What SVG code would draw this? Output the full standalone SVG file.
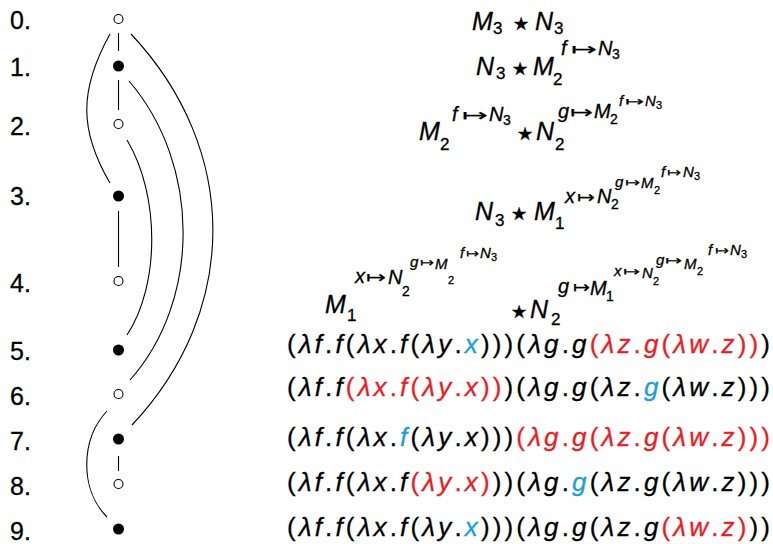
<svg xmlns="http://www.w3.org/2000/svg" width="773" height="544" viewBox="0 0 773 544">
<style>
text{font-family:"Liberation Sans","DejaVu Sans",sans-serif;fill:#000;stroke:#000;stroke-width:0.3}
.lab{font-size:25px}
.L{font-size:25px;font-style:italic}
.d1{font-size:17px}
.l1{font-size:20px;font-style:italic}
.d2{font-size:14px}
.l2{font-size:15px;font-style:italic}
.d3{font-size:11px}
.st{font-family:"DejaVu Sans",sans-serif;font-size:18px}
.a1{font-family:"DejaVu Sans",sans-serif;font-size:17px;stroke-width:0.2}
.a2{font-family:"DejaVu Sans",sans-serif;font-size:13px;stroke-width:0.2}
.lam{font-size:26px}
.i{font-style:italic}
.r{fill:#ec1c24;stroke:#ec1c24}
.c{fill:#1a9fdc;stroke:#1a9fdc}
.op{fill:#fff;stroke:#000;stroke-width:1.1}
.fl{fill:#000}
.cn{fill:none;stroke:#000;stroke-width:1.1}
</style>
<g id="connectors">
<line class="cn" x1="118.5" y1="33" x2="118.5" y2="51"/>
<line class="cn" x1="118.5" y1="80" x2="118.5" y2="110"/>
<line class="cn" x1="118.5" y1="211" x2="118.5" y2="267"/>
<line class="cn" x1="118.5" y1="456" x2="118.5" y2="471"/>
<path class="cn" d="M110,34 C79,90 79,130 110,183"/>
<path class="cn" d="M131,34 C240,150 240,310 132,425"/>
<path class="cn" d="M129,81 C201,165 201,300 130,380"/>
<path class="cn" d="M127,140 C160,195 160,285 127,335"/>
<path class="cn" d="M107,411 C80,440 80,490 107,517"/>
</g>
<g id="n0">
<text class="lab" x="10" y="29">0.</text>
<circle class="op" cx="118.5" cy="19" r="4.5"/>
<text class="L" x="472" y="30">M</text><text class="d1" x="493" y="34">3</text>
<text class="st" x="513" y="30">★</text>
<text class="L" x="535" y="30">N</text><text class="d1" x="554" y="34">3</text>
</g>
<g id="n1">
<text class="lab" x="10" y="76">1.</text>
<circle class="fl" cx="118.5" cy="66" r="5.5"/>
<text class="L" x="476" y="75">N</text><text class="d1" x="496" y="79">3</text>
<text class="st" x="512" y="75">★</text>
<text class="L" x="533" y="75">M</text><text class="d1" x="553" y="85">2</text>
<text class="l1" x="561" y="55">f</text><text class="a1" x="571" y="55" textLength="26" lengthAdjust="spacingAndGlyphs">↦</text><text class="l1" x="598" y="55">N</text><text class="d2" x="612" y="59">3</text>
</g>
<g id="n2">
<text class="lab" x="10" y="135">2.</text>
<circle class="op" cx="118.5" cy="124" r="4.5"/>
<text class="L" x="419" y="140">M</text><text class="d1" x="440" y="150">2</text>
<text class="l1" x="452" y="121">f</text><text class="a1" x="462" y="121" textLength="26" lengthAdjust="spacingAndGlyphs">↦</text><text class="l1" x="489" y="121">N</text><text class="d2" x="503" y="125">3</text>
<text class="st" x="517" y="140">★</text>
<text class="L" x="536" y="140">N</text><text class="d1" x="555" y="150">2</text>
<text class="l1" x="558" y="118">g</text><text class="a1" x="570" y="118" textLength="23" lengthAdjust="spacingAndGlyphs">↦</text><text class="l1" x="594" y="118">M</text><text class="d2" x="610" y="124">2</text>
<text class="l2" x="619" y="106">f</text><text class="a2" x="625" y="106" textLength="19" lengthAdjust="spacingAndGlyphs">↦</text><text class="l2" x="645" y="106">N</text><text class="d3" x="656" y="109">3</text>
</g>
<g id="n3">
<text class="lab" x="10" y="205">3.</text>
<circle class="fl" cx="118.5" cy="196" r="5.5"/>
<text class="L" x="475" y="220">N</text><text class="d1" x="495" y="226">3</text>
<text class="st" x="511" y="220">★</text>
<text class="L" x="534" y="220">M</text><text class="d1" x="555" y="229">1</text>
<text class="l1" x="565" y="203">x</text><text class="a1" x="577" y="203" textLength="18" lengthAdjust="spacingAndGlyphs">↦</text><text class="l1" x="597" y="203">N</text><text class="d2" x="611" y="209">2</text>
<text class="l2" x="615" y="187">g</text><text class="a2" x="625" y="187" textLength="15" lengthAdjust="spacingAndGlyphs">↦</text><text class="l2" x="641" y="188">M</text><text class="d3" x="654" y="194">2</text>
<text class="l2" x="661" y="177">f</text><text class="a2" x="667" y="177" textLength="14" lengthAdjust="spacingAndGlyphs">↦</text><text class="l2" x="683" y="177">N</text><text class="d3" x="694" y="180">3</text>
</g>
<g id="n4">
<text class="lab" x="10" y="292">4.</text>
<circle class="op" cx="118.5" cy="281" r="4.5"/>
<text class="L" x="325" y="313">M</text><text class="d1" x="347" y="321">1</text>
<text class="l1" x="355" y="283">x</text><text class="a1" x="366" y="283" textLength="20" lengthAdjust="spacingAndGlyphs">↦</text><text class="l1" x="388" y="284">N</text><text class="d2" x="402" y="296">2</text>
<text class="l2" x="410" y="267">g</text><text class="a2" x="420" y="267" textLength="14" lengthAdjust="spacingAndGlyphs">↦</text><text class="l2" x="435" y="269">M</text><text class="d3" x="448" y="284">2</text>
<text class="l2" x="460" y="258">f</text><text class="a2" x="466" y="258" textLength="13" lengthAdjust="spacingAndGlyphs">↦</text><text class="l2" x="480" y="258">N</text><text class="d3" x="491" y="261">3</text>
<text class="st" x="511" y="318">★</text>
<text class="L" x="530" y="318">N</text><text class="d1" x="551" y="325">2</text>
<text class="l1" x="558" y="293">g</text><text class="a1" x="573" y="293" textLength="17" lengthAdjust="spacingAndGlyphs">↦</text><text class="l1" x="590" y="295">M</text><text class="d2" x="606" y="301">1</text>
<text class="l2" x="614" y="276">x</text><text class="a2" x="623" y="276" textLength="17" lengthAdjust="spacingAndGlyphs">↦</text><text class="l2" x="642" y="278">N</text><text class="d3" x="653" y="285">2</text>
<text class="l2" x="656" y="265">g</text><text class="a2" x="665" y="265" textLength="17" lengthAdjust="spacingAndGlyphs">↦</text><text class="l2" x="684" y="269">M</text><text class="d3" x="697" y="275">2</text>
<text class="l2" x="708" y="255">f</text><text class="a2" x="715" y="255" textLength="14" lengthAdjust="spacingAndGlyphs">↦</text><text class="l2" x="730" y="255">N</text><text class="d3" x="741" y="258">3</text>
</g>
<g id="n5">
<text class="lab" x="10" y="360">5.</text>
<circle class="fl" cx="118.5" cy="350" r="5.5"/>
<text class="lam" x="287" y="353" textLength="483" lengthAdjust="spacing">(<tspan class="i">λf</tspan>.<tspan class="i">f</tspan>(<tspan class="i">λx</tspan>.<tspan class="i">f</tspan>(<tspan class="i">λy</tspan>.<tspan class="i c">x</tspan>)))(<tspan class="i">λg</tspan>.<tspan class="i">g</tspan><tspan class="r">(<tspan class="i">λz</tspan>.<tspan class="i">g</tspan>(<tspan class="i">λw</tspan>.<tspan class="i">z</tspan>))</tspan>)</text>
</g>
<g id="n6">
<text class="lab" x="10" y="405">6.</text>
<circle class="op" cx="118.5" cy="394" r="4.5"/>
<text class="lam" x="287" y="396" textLength="483" lengthAdjust="spacing">(<tspan class="i">λf</tspan>.<tspan class="i">f</tspan><tspan class="r">(<tspan class="i">λx</tspan>.<tspan class="i">f</tspan>(<tspan class="i">λy</tspan>.<tspan class="i">x</tspan>))</tspan>)(<tspan class="i">λg</tspan>.<tspan class="i">g</tspan>(<tspan class="i">λz</tspan>.<tspan class="i c">g</tspan>(<tspan class="i">λw</tspan>.<tspan class="i">z</tspan>)))</text>
</g>
<g id="n7">
<text class="lab" x="10" y="450">7.</text>
<circle class="fl" cx="118.5" cy="439" r="5.5"/>
<text class="lam" x="287" y="446" textLength="483" lengthAdjust="spacing">(<tspan class="i">λf</tspan>.<tspan class="i">f</tspan>(<tspan class="i">λx</tspan>.<tspan class="i c">f</tspan>(<tspan class="i">λy</tspan>.<tspan class="i">x</tspan>)))<tspan class="r">(<tspan class="i">λg</tspan>.<tspan class="i">g</tspan>(<tspan class="i">λz</tspan>.<tspan class="i">g</tspan>(<tspan class="i">λw</tspan>.<tspan class="i">z</tspan>)))</tspan></text>
</g>
<g id="n8">
<text class="lab" x="10" y="495">8.</text>
<circle class="op" cx="118.5" cy="484" r="4.5"/>
<text class="lam" x="287" y="491" textLength="483" lengthAdjust="spacing">(<tspan class="i">λf</tspan>.<tspan class="i">f</tspan>(<tspan class="i">λx</tspan>.<tspan class="i">f</tspan><tspan class="r">(<tspan class="i">λy</tspan>.<tspan class="i">x</tspan>)</tspan>))(<tspan class="i">λg</tspan>.<tspan class="i c">g</tspan>(<tspan class="i">λz</tspan>.<tspan class="i">g</tspan>(<tspan class="i">λw</tspan>.<tspan class="i">z</tspan>)))</text>
</g>
<g id="n9">
<text class="lab" x="10" y="540">9.</text>
<circle class="fl" cx="118.5" cy="529" r="5.5"/>
<text class="lam" x="287" y="536" textLength="483" lengthAdjust="spacing">(<tspan class="i">λf</tspan>.<tspan class="i">f</tspan>(<tspan class="i">λx</tspan>.<tspan class="i">f</tspan>(<tspan class="i">λy</tspan>.<tspan class="i c">x</tspan>)))(<tspan class="i">λg</tspan>.<tspan class="i">g</tspan>(<tspan class="i">λz</tspan>.<tspan class="i">g</tspan><tspan class="r">(<tspan class="i">λw</tspan>.<tspan class="i">z</tspan>)</tspan>))</text>
</g>
</svg>
